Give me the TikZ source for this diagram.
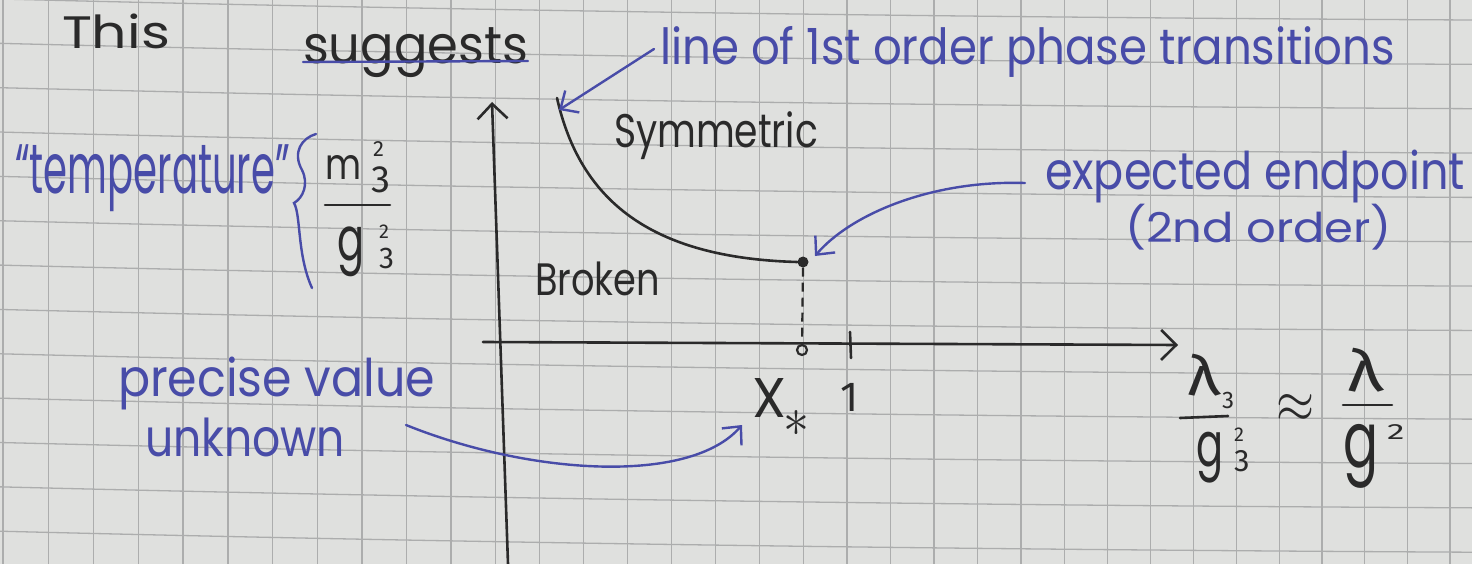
\documentclass[tikz,border=0pt]{standalone}
\usepackage{amsmath}
\usepackage{graphicx}
\usepackage{fontspec}
\setmainfont{Poppins}
\newfontfamily\greekfont{Fira Sans}
\usetikzlibrary{arrows.meta}
\definecolor{paper}{RGB}{223,224,222}
\definecolor{gridc}{RGB}{172,173,173}
\definecolor{inkblue}{RGB}{72,76,168}
\definecolor{inkblack}{RGB}{42,42,42}
\newcommand{\rb}[3]{\resizebox*{#1pt}{#2pt}{#3}}
\newcommand{\dg}[2]{{\greekfont\fontsize{#1}{#1}\selectfont #2}}
\tikzset{
  gridline/.style={draw=gridc, line width=1.3pt},
  hand/.style={inner sep=0pt, outer sep=0pt, anchor=north west},
  bluetxt/.style={hand, text=inkblue},
  blacktxt/.style={hand, text=inkblack},
  digit/.style={inner sep=0pt, outer sep=0pt, anchor=base west, text=inkblack},
  axisline/.style={draw=inkblack, line width=2.6pt, line cap=round,
    -{Straight Barb[length=15pt,width=30pt]}},
  phaseline/.style={draw=inkblack, line width=2.6pt, line cap=round},
  fracline/.style={draw=inkblack, line width=2.6pt, line cap=round},
  dashline/.style={draw=inkblack, line width=2.2pt, dash pattern=on 9pt off 6pt},
  bluearrow/.style={draw=inkblue, line width=2.4pt, line cap=round,
    -{Straight Barb[length=14pt,width=26pt]}},
  blueline/.style={draw=inkblue, line width=2.4pt, line cap=round},
  enddot/.style={circle, fill=inkblack, inner sep=0pt, minimum size=11pt},
  opendot/.style={circle, draw=inkblack, line width=2.2pt, inner sep=0pt, minimum size=10pt},
}
\begin{document}
\begin{tikzpicture}[x=1pt,y=-1pt]
\useasboundingbox (0,0) rectangle (1472,564);
\fill[paper] (0,0) rectangle (1472,564);
% grid paper
\foreach \k in {0,...,33}{
  \pgfmathsetmacro{\xx}{3+45.2*\k-0.041*\k*\k}
  \draw[gridline] (\xx,0) -- (\xx,564);
}
\foreach \j in {0,...,12}{
  \pgfmathsetmacro{\yy}{-1+44.35*\j}
  \draw[gridline] (0,\yy) .. controls (490,\yy+12.3) and (980,\yy+18.5) .. (1472,\yy+21);
}
% texts
\node[blacktxt] (this) at (62,14) {\rb{108}{35}{This}};
\node[blacktxt] (sugg) at (303,28) {\rb{225}{50}{suggests}};
\node[bluetxt] (line1) at (660,26) {\rb{735}{51}{line of 1st order phase transitions}};
\node[blacktxt] (sym) at (614,112) {\rb{204}{48}{Symmetric}};
\node[bluetxt] (expd) at (1045,150) {\rb{420}{53}{expected endpoint}};
\node[bluetxt] (ord) at (1125,204) {\rb{267}{46}{(2nd order)}};
\node[blacktxt] (brk) at (535,262) {\rb{125}{34}{Broken}};
\node[bluetxt] (temp) at (15,145) {\rb{275}{67}{``temperature''}};
\node[bluetxt] (prec) at (118,357) {\rb{317}{53}{precise value}};
\node[bluetxt] (unk) at (145,418) {\rb{200}{39}{unknown}};
% left fraction m_3^2 / g_3^2
\node[blacktxt] (fm)  at (325,155) {\rb{36}{24}{m}};
\node[digit] (fm2) at (373,157) {\dg{22}{2}};
\node[digit] (fm3) at (371,193) {\dg{38}{3}};
\node[blacktxt] (fg)  at (337,227) {\rb{27}{50}{g}};
\node[digit] (fg2) at (379,238) {\dg{20}{2}};
\node[digit] (fg3) at (379,268) {\dg{30}{3}};
\coordinate (fl1) at (325,205);
\coordinate (fl2) at (390,205);
\draw[fracline] (fl1) -- (fl2);
% X_* and 1
\node[blacktxt] (xx) at (752,378) {\rb{34}{39}{X}};
\node[blacktxt] (xst) at (783,410) {\rb{26}{26}{$\ast$}};
\node[digit] (one) at (840,411) {\dg{42}{1}};
% right expression lambda_3/g_3^2 ~ lambda/g^2
\node[blacktxt] (rl)  at (1187,354) {\rb{33}{42}{\greekfont λ}};
\node[digit] (rl3) at (1222,408) {\dg{24}{3}};
\coordinate (rf1) at (1180,418);
\coordinate (rf2) at (1228,416);
\draw[fracline] (rf1) -- (rf2);
\node[blacktxt] (rg)  at (1196,432) {\rb{27}{51}{g}};
\node[digit] (rg2) at (1234,441) {\dg{20}{2}};
\node[digit] (rg3) at (1234,471) {\dg{31}{3}};
\node[blacktxt] (appr) at (1276,394) {\rb{38}{28}{$\approx$}};
\node[blacktxt] (sl)  at (1347,348) {\rb{36}{44}{\greekfont λ}};
\coordinate (sf1) at (1343,405);
\coordinate (sf2) at (1392,405);
\draw[fracline] (sf1) -- (sf2);
\node[blacktxt] (sg)  at (1343,424) {\rb{35}{64}{g}};
\node[digit] (sg2) at (1387,439) {\scalebox{1.6}[1]{\dg{22}{2}}};
% underline
\coordinate (ul1) at (303,62);
\coordinate (ul2) at (528,61);
\draw[blueline] (ul1) -- (ul2);
% brace
\draw[blueline] (316,134) .. controls (302,138) and (292,152) .. (302,170)
  .. controls (309,184) and (303,198) .. (294,203)
  .. controls (301,215) and (297,255) .. (312,288);
% axes
\coordinate (yb) at (508,564);
\coordinate (yt) at (492,102);
\coordinate (xl) at (483,342);
\coordinate (xr) at (1178,345);
\draw[axisline] (yb) -- (yt);
\draw[axisline] (xl) -- (xr);
\coordinate (tk1) at (850,332);
\coordinate (tk2) at (851,358);
\draw[phaseline] (tk1) -- (tk2);
% phase line and points
\coordinate (cs) at (557,98);
\node[enddot] (ep) at (803,262) {};
\node[opendot] (xs) at (802,350) {};
\draw[phaseline] (cs) .. controls (580,200) and (650,258) .. (ep.west);
\draw[dashline] (ep.south) -- (xs.north);
% blue arrows
\coordinate (a1s) at (654,49);
\coordinate (a1e) at (559,110);
\draw[bluearrow] (a1s) -- (a1e);
\coordinate (a2s) at (1025,183);
\coordinate (a2e) at (815,256);
\draw[bluearrow] (a2s) .. controls (930,180) and (850,215) .. (a2e);
\coordinate (a3s) at (406,425);
\coordinate (a3e) at (742,425);
\draw[bluearrow] (a3s) .. controls (530,475) and (690,485) .. (a3e);
\end{tikzpicture}
\end{document}
